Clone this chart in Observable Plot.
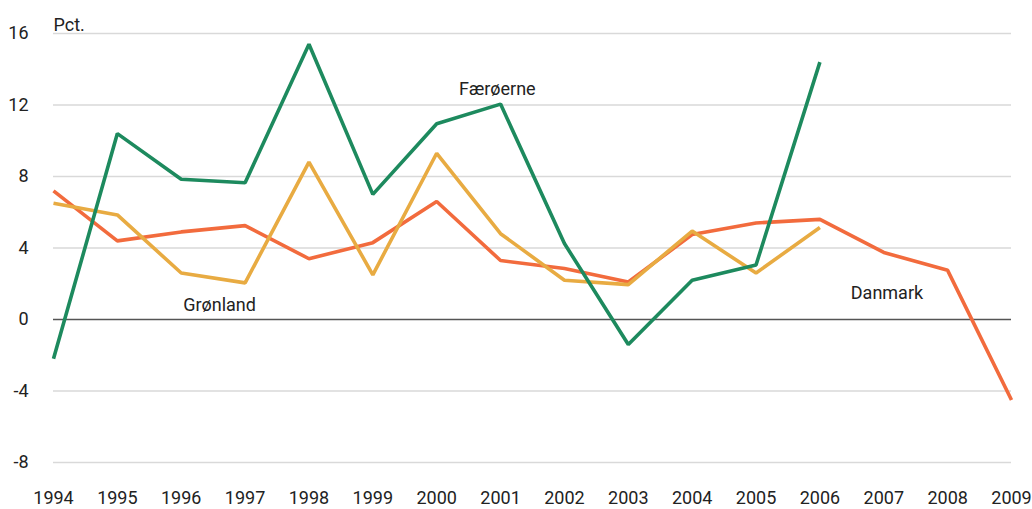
<!DOCTYPE html>
<html>
<head>
<meta charset="utf-8">
<script src="https://cdn.jsdelivr.net/npm/d3@7"></script>
<script src="https://cdn.jsdelivr.net/npm/@observablehq/plot@0.6"></script>
<style>
  html, body { margin: 0; padding: 0; background: #fff; }
  #chart { width: 1032px; height: 509px; }
</style>
</head>
<body>
<div id="chart"></div>
<script>
const years = [1994,1995,1996,1997,1998,1999,2000,2001,2002,2003,2004,2005,2006,2007,2008,2009];
const danmark  = [7.2, 4.4, 4.9, 5.25, 3.4, 4.3, 6.6, 3.3, 2.85, 2.1, 4.75, 5.4, 5.6, 3.75, 2.75, -4.5];
const groenland = [6.5, 5.85, 2.6, 2.05, 8.8, 2.5, 9.3, 4.8, 2.2, 1.95, 4.95, 2.6, 5.15];
const faeroerne = [-2.2, 10.4, 7.85, 7.65, 15.4, 7.0, 10.95, 12.05, 4.25, -1.4, 2.2, 3.05, 14.4];
const seriesNames = ["Danmark", "Grønland", "Færøerne"];
const seriesColors = ["#f26b3d", "#e8ab42", "#1d8a5e"];
const yTicks = [-8, -4, 0, 4, 8, 12, 16];
const labelNames = ["Færøerne", "Grønland", "Danmark"];
const labelYears = [2000.95, 1996.6, 2007.05];
const labelValues = [12.9, 0.8, 1.45];

const rows = [];
[danmark, groenland, faeroerne].forEach((vals, i) => {
  vals.forEach((v, j) => rows.push({series: seriesNames[i], year: years[j], value: v}));
});
const labels = labelNames.map((n, i) => ({name: n, year: labelYears[i], value: labelValues[i]}));

const font = "Roboto, 'Open Sans', sans-serif";
const fs = 18;

const chart = Plot.plot({
  width: 1032,
  height: 509,
  marginLeft: 53,
  marginRight: 21,
  marginTop: 33,
  marginBottom: 47,
  style: {fontFamily: font, fontSize: fs + "px", color: "#222", background: "#fff"},
  x: {domain: [1994, 2009], ticks: years, tickFormat: d => String(d)},
  y: {domain: [-8, 16], ticks: yTicks, tickFormat: d => String(d)},
  color: {domain: seriesNames, range: seriesColors},
  marks: [
    Plot.ruleY(yTicks.filter(d => d !== 0), {stroke: "#d9d9d9", strokeWidth: 1.6}),
    Plot.ruleY([0], {stroke: "#555", strokeWidth: 1.6}),
    Plot.axisX({ticks: years, tickSize: 0, tickPadding: 29, tickFormat: d => String(d), label: null, fontSize: fs}),
    Plot.axisY({ticks: yTicks, tickSize: 0, tickPadding: 25, tickFormat: d => String(d), label: null, fontSize: fs}),
    Plot.line(rows, {x: "year", y: "value", z: "series", stroke: "series", strokeWidth: 3.6, strokeLinejoin: "miter", strokeLinecap: "butt"}),
    Plot.text(labels, {x: "year", y: "value", text: "name", fontSize: fs, fill: "#222"}),
    Plot.text(["Pct."], {frameAnchor: "top-left", textAnchor: "start", lineAnchor: "bottom", dy: -3, fontSize: fs, fill: "#222"})
  ]
});
document.getElementById("chart").appendChild(chart);
</script>
</body>
</html>
